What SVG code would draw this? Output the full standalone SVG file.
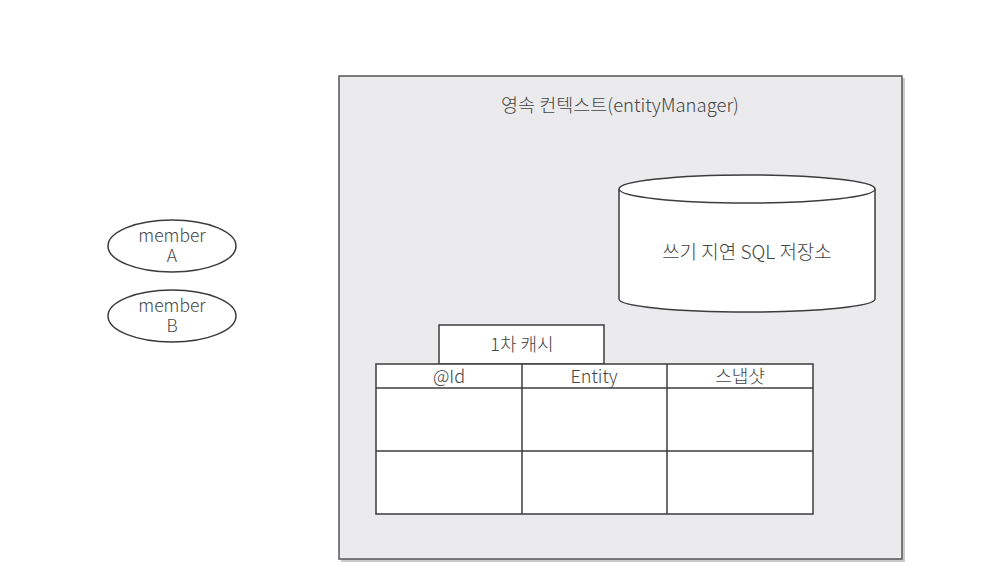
<svg xmlns="http://www.w3.org/2000/svg" width="988" height="580" viewBox="0 0 988 580">
  <defs>
    <style>
      .t { font-family: "Noto Sans CJK KR", "Noto Sans", sans-serif; fill: #444; text-anchor: middle; font-weight: 300; }
      .ln { stroke: #3c3c3c; stroke-width: 1.5; fill: #fff; }
      .shadow { fill: #9a9a9a; opacity: 0.5; }
    </style>
  </defs>
  <rect width="988" height="580" fill="#fff"/>
  <g id="context">
    <rect class="shadow" x="341" y="78" width="564" height="484"/>
    <rect x="339" y="76" width="563" height="483" fill="#ebebed" stroke="#555" stroke-width="1.5"/>
    <text class="t" x="620" y="112" font-size="18.5">영속 컨텍스트(entityManager)</text>
  </g>
  <g id="sql-store">
    <path class="ln" d="M619,189 L619,299 A128,13 0 0 0 875,299 L875,189"/>
    <ellipse class="ln" cx="747" cy="189" rx="128" ry="14"/>
    <text class="t" x="747" y="259" font-size="19">쓰기 지연 SQL 저장소</text>
  </g>
  <g id="first-cache">
    <rect class="ln" x="439" y="325" width="165" height="39"/>
    <text class="t" x="522" y="351" font-size="18">1차 캐시</text>
    <rect class="ln" x="376" y="364" width="437" height="150"/>
    <line class="ln" x1="376" y1="388" x2="813" y2="388"/>
    <line class="ln" x1="376" y1="451" x2="813" y2="451"/>
    <line class="ln" x1="522" y1="364" x2="522" y2="514"/>
    <line class="ln" x1="667" y1="364" x2="667" y2="514"/>
    <text class="t" x="449" y="383" font-size="18">@Id</text>
    <text class="t" x="594" y="383" font-size="18">Entity</text>
    <text class="t" x="740" y="383" font-size="18">스냅샷</text>
  </g>
  <g id="memberA">
    <ellipse class="ln" cx="172" cy="246" rx="64" ry="26"/>
    <text class="t" x="172" y="242" font-size="17.5">member</text>
    <text class="t" x="172" y="262" font-size="17.5">A</text>
  </g>
  <g id="memberB">
    <ellipse class="ln" cx="172" cy="316" rx="64" ry="26"/>
    <text class="t" x="172" y="312" font-size="17.5">member</text>
    <text class="t" x="172" y="332" font-size="17.5">B</text>
  </g>
  <g id="connectors"></g>
</svg>
